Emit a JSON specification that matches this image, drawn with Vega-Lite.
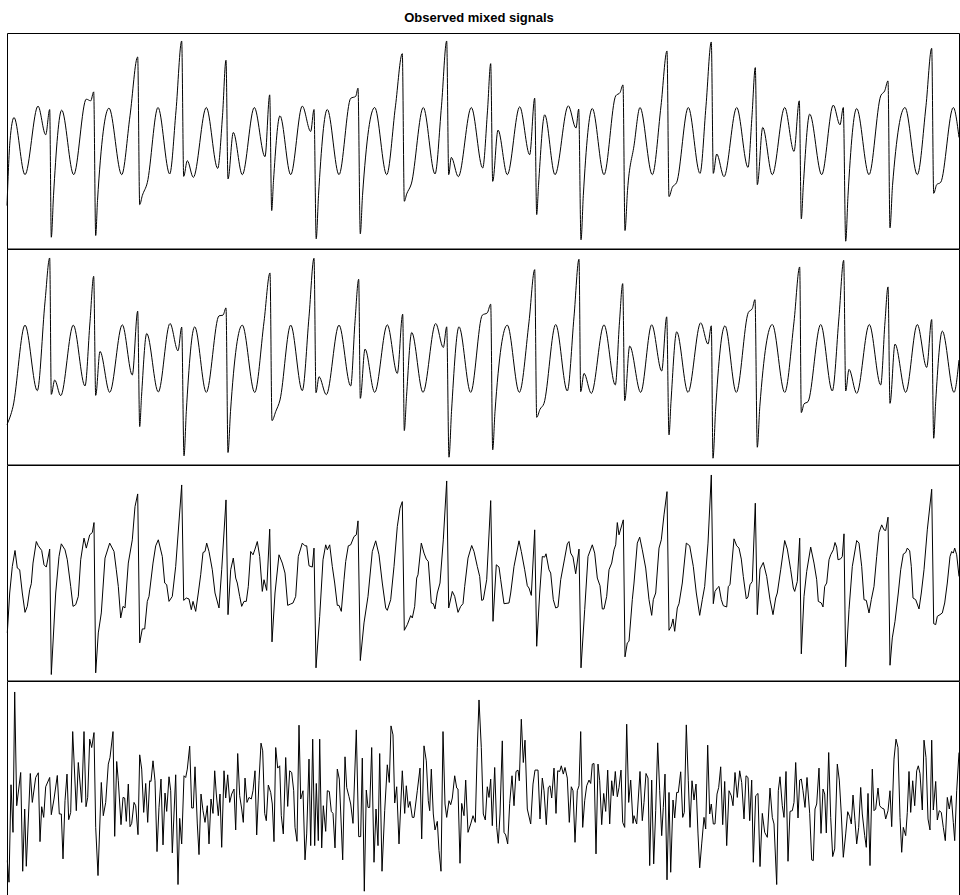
{
"$schema": "https://vega.github.io/schema/vega-lite/v6.json",
"background": "white",
"padding": {"left": 4, "top": 11, "right": 0, "bottom": 0},
"bounds": "flush",
"title": {"text": "Observed mixed signals", "fontSize": 13, "fontWeight": "bold", "font": "Liberation Sans", "anchor": "middle", "offset": 8, "dx": -4, "color": "black"},
"spacing": 0,
"config": {"view": {"stroke": "black", "strokeWidth": 1}, "concat": {"spacing": 0}},
"vconcat": [
{"width": 952, "height": 215.5, "data": {"name": "s1"}, "mark": {"type": "line", "color": "black", "strokeWidth": 1, "interpolate": "monotone"}, "encoding": {"x": {"field": "t", "type": "quantitative", "scale": {"domain": [0, 952]}, "axis": null}, "y": {"field": "v", "type": "quantitative", "scale": {"domain": [-108, 108]}, "axis": null}}},
{"width": 952, "height": 215.5, "data": {"name": "s2"}, "mark": {"type": "line", "color": "black", "strokeWidth": 1, "interpolate": "monotone"}, "encoding": {"x": {"field": "t", "type": "quantitative", "scale": {"domain": [0, 952]}, "axis": null}, "y": {"field": "v", "type": "quantitative", "scale": {"domain": [-108, 108]}, "axis": null}}},
{"width": 952, "height": 215.5, "data": {"name": "s3"}, "mark": {"type": "line", "color": "black", "strokeWidth": 1}, "encoding": {"x": {"field": "t", "type": "quantitative", "scale": {"domain": [0, 952]}, "axis": null}, "y": {"field": "v", "type": "quantitative", "scale": {"domain": [-108, 108]}, "axis": null}}},
{"width": 952, "height": 215.5, "data": {"name": "s4"}, "mark": {"type": "line", "color": "black", "strokeWidth": 1}, "encoding": {"x": {"field": "t", "type": "quantitative", "scale": {"domain": [0, 952]}, "axis": null}, "y": {"field": "v", "type": "quantitative", "scale": {"domain": [-108, 108]}, "axis": null}}}
],
"datasets": {
"s1": [
{"t":0,"v":-65},{"t":3,"v":0},{"t":7,"v":23.3},{"t":18,"v":-34},{"t":31,"v":34.7},{"t":38.7,"v":6},{"t":42.7,"v":31.3},{"t":44.3,"v":-96.7},{"t":46.5,"v":-55},{"t":54.7,"v":30.7},{"t":66.7,"v":-34},{"t":79.3,"v":41.7},{"t":83.7,"v":40},{"t":86.7,"v":49},{"t":88.7,"v":-95},{"t":90.5,"v":-60},{"t":102,"v":32.7},{"t":114.7,"v":-34},{"t":123,"v":25},{"t":130.7,"v":84},{"t":132.7,"v":-64},{"t":135.3,"v":-55},{"t":140.3,"v":-42},{"t":151,"v":33.3},{"t":162.7,"v":-33.3},{"t":169,"v":30},{"t":174.7,"v":100},{"t":176.7,"v":-35.7},{"t":180.3,"v":-20},{"t":186.3,"v":-36.7},{"t":199.3,"v":33.3},{"t":210.7,"v":-27.7},{"t":215.5,"v":25},{"t":219,"v":80.7},{"t":221,"v":-38.3},{"t":226.3,"v":8.3},{"t":235.3,"v":-34},{"t":247.3,"v":33.3},{"t":258,"v":-16},{"t":262.7,"v":46},{"t":264.7,"v":-70},{"t":266.5,"v":-40},{"t":273,"v":25},{"t":283.7,"v":-34},{"t":295.3,"v":34.7},{"t":303.7,"v":9.3},{"t":307,"v":31.3},{"t":309.2,"v":-98.3},{"t":311.5,"v":-55},{"t":320.3,"v":31.3},{"t":332,"v":-34},{"t":343.7,"v":42.5},{"t":348.7,"v":44.5},{"t":351,"v":52.7},{"t":353.3,"v":-93.3},{"t":355.5,"v":-55},{"t":367.7,"v":33.3},{"t":379.7,"v":-34},{"t":388.5,"v":35},{"t":395.3,"v":87.3},{"t":397.3,"v":-60.7},{"t":399.7,"v":-53.3},{"t":404.3,"v":-43.3},{"t":416.3,"v":33.3},{"t":428,"v":-33.3},{"t":434.5,"v":35},{"t":439.7,"v":100},{"t":441.7,"v":-34},{"t":444.3,"v":-16.7},{"t":451.3,"v":-36},{"t":464.3,"v":33.3},{"t":475.7,"v":-27.3},{"t":480.5,"v":30},{"t":483.7,"v":77.3},{"t":485.7,"v":-40.7},{"t":491,"v":10.7},{"t":500.3,"v":-34},{"t":512.7,"v":34},{"t":522.7,"v":-14},{"t":527.7,"v":42.7},{"t":529.7,"v":-74},{"t":531.5,"v":-45},{"t":537.7,"v":26},{"t":548,"v":-34},{"t":561.3,"v":35},{"t":569,"v":12.7},{"t":571.7,"v":31.7},{"t":574,"v":-99.3},{"t":576.3,"v":-55},{"t":585.3,"v":32.3},{"t":597,"v":-34},{"t":608.7,"v":45},{"t":613,"v":48.3},{"t":616,"v":56},{"t":618,"v":-90},{"t":620.5,"v":-50},{"t":627,"v":-5},{"t":633,"v":33.3},{"t":645.3,"v":-34},{"t":654,"v":35},{"t":660,"v":90},{"t":662,"v":-56},{"t":665.3,"v":-46.7},{"t":669.7,"v":-41.7},{"t":681.3,"v":33.3},{"t":693,"v":-32.7},{"t":699,"v":35},{"t":704.3,"v":99},{"t":706.3,"v":-32.7},{"t":709.7,"v":-13.3},{"t":717,"v":-36},{"t":729.7,"v":33.3},{"t":741,"v":-26.7},{"t":745,"v":25},{"t":748.3,"v":73.3},{"t":750.3,"v":-44},{"t":755.7,"v":13.3},{"t":765.3,"v":-34},{"t":777.7,"v":33.3},{"t":787,"v":-10.7},{"t":792.3,"v":40},{"t":794.3,"v":-78.3},{"t":796.3,"v":-45},{"t":802.7,"v":26.7},{"t":814.7,"v":-34},{"t":826.3,"v":35.7},{"t":833,"v":16},{"t":836.3,"v":33.3},{"t":838.7,"v":-100.7},{"t":841,"v":-55},{"t":849.7,"v":32.3},{"t":862,"v":-34},{"t":873.7,"v":45},{"t":877.7,"v":50},{"t":881,"v":60},{"t":883,"v":-87.3},{"t":885.5,"v":-45},{"t":898,"v":33.3},{"t":910.3,"v":-34},{"t":919,"v":35},{"t":924.7,"v":92.7},{"t":926.7,"v":-52.7},{"t":929.7,"v":-44},{"t":933.7,"v":-41.7},{"t":946.3,"v":33.3},{"t":952,"v":3.3}
],
"s2": [
{"t":0,"v":-68},{"t":6,"v":-50},{"t":18,"v":31.7},{"t":30.3,"v":-34},{"t":38,"v":55},{"t":42.7,"v":99},{"t":44.3,"v":-37.7},{"t":47.7,"v":-23.3},{"t":53.7,"v":-39},{"t":66.3,"v":31.7},{"t":78,"v":-29.3},{"t":83,"v":35},{"t":86.7,"v":80.7},{"t":88.7,"v":-38.7},{"t":93,"v":5.3},{"t":102.7,"v":-35.7},{"t":115.3,"v":32},{"t":125.3,"v":-18.3},{"t":130.7,"v":45.7},{"t":132.7,"v":-70},{"t":134.5,"v":-40},{"t":139.7,"v":23.3},{"t":151.3,"v":-35.3},{"t":163,"v":33.3},{"t":171,"v":6},{"t":174.7,"v":29.7},{"t":177,"v":-99.3},{"t":179.3,"v":-55},{"t":187.7,"v":30},{"t":199.3,"v":-35.7},{"t":212,"v":41},{"t":216,"v":41.7},{"t":219,"v":49},{"t":221,"v":-96},{"t":223.5,"v":-55},{"t":235.3,"v":31.7},{"t":247.7,"v":-35.7},{"t":257,"v":35},{"t":263,"v":84},{"t":265,"v":-64},{"t":268.7,"v":-55},{"t":273,"v":-43.3},{"t":283.7,"v":31.7},{"t":295.3,"v":-34},{"t":302,"v":40},{"t":307,"v":98.7},{"t":309,"v":-36},{"t":312,"v":-20},{"t":319.3,"v":-38},{"t":332,"v":31.7},{"t":343.7,"v":-29.3},{"t":348,"v":35},{"t":351.7,"v":77.7},{"t":353.3,"v":-41.7},{"t":358,"v":7.7},{"t":367.7,"v":-35.7},{"t":380.3,"v":32},{"t":390.3,"v":-16.7},{"t":395.7,"v":42.7},{"t":397.3,"v":-74},{"t":399.5,"v":-40},{"t":404.7,"v":24.3},{"t":416,"v":-35.7},{"t":428.7,"v":33.3},{"t":436.3,"v":9.3},{"t":439.7,"v":30},{"t":442,"v":-100.7},{"t":444.5,"v":-55},{"t":452,"v":30},{"t":463.7,"v":-35.7},{"t":475.3,"v":41.7},{"t":480.3,"v":44},{"t":483.7,"v":52.7},{"t":485.7,"v":-93.3},{"t":488,"v":-55},{"t":500.3,"v":31.7},{"t":512.3,"v":-35.7},{"t":522,"v":35},{"t":527.7,"v":87.3},{"t":529.7,"v":-60.7},{"t":533,"v":-52.7},{"t":537,"v":-46.7},{"t":548.7,"v":32.3},{"t":560.3,"v":-34.3},{"t":567,"v":40},{"t":572,"v":97.7},{"t":573.7,"v":-35},{"t":577,"v":-16.7},{"t":584.3,"v":-36.7},{"t":597,"v":32},{"t":608.3,"v":-28.3},{"t":612.5,"v":35},{"t":615.7,"v":73.3},{"t":617.7,"v":-44},{"t":622.7,"v":10.7},{"t":633.7,"v":-35.7},{"t":644.7,"v":32},{"t":654.7,"v":-14.3},{"t":659.7,"v":40},{"t":662,"v":-78.3},{"t":664,"v":-45},{"t":669.7,"v":25},{"t":681,"v":-35.7},{"t":693.7,"v":34},{"t":701,"v":12.7},{"t":704.3,"v":31},{"t":706,"v":-101.7},{"t":708.5,"v":-55},{"t":718,"v":31},{"t":729.3,"v":-35.7},{"t":741.3,"v":44.3},{"t":745.3,"v":48.3},{"t":748,"v":57.3},{"t":750.3,"v":-90.7},{"t":752.8,"v":-50},{"t":765.3,"v":32.3},{"t":777.7,"v":-35.7},{"t":787,"v":35},{"t":792.7,"v":90},{"t":794.3,"v":-56},{"t":797,"v":-47.3},{"t":801,"v":-45},{"t":813.7,"v":32.3},{"t":825.3,"v":-34.3},{"t":832,"v":40},{"t":836.7,"v":96.7},{"t":838.7,"v":-34.3},{"t":842,"v":-12.7},{"t":849.7,"v":-36.7},{"t":862.3,"v":32.3},{"t":873.7,"v":-28.3},{"t":878,"v":35},{"t":881,"v":70},{"t":883,"v":-46.7},{"t":888,"v":12.7},{"t":898.7,"v":-35.7},{"t":910.3,"v":32.3},{"t":919.7,"v":-10.7},{"t":924.7,"v":37.3},{"t":926.7,"v":-81.7},{"t":928.7,"v":-45},{"t":935.3,"v":25.7},{"t":947,"v":-35.7},{"t":952,"v":-3.3}
],
"s3": [
{"t":0.3,"v":-60.3},{"t":2.7,"v":-20.3},{"t":5.3,"v":6.3},{"t":8,"v":22.3},{"t":10.3,"v":4.7},{"t":12.7,"v":3},{"t":15.3,"v":-20.3},{"t":18,"v":-39.7},{"t":20.3,"v":-33.7},{"t":22.7,"v":-17},{"t":24.3,"v":-11},{"t":26,"v":9.7},{"t":29.3,"v":31.3},{"t":31.3,"v":27},{"t":34.7,"v":22.3},{"t":37,"v":8},{"t":39.3,"v":5.7},{"t":42.7,"v":23.7},{"t":44.3,"v":-102},{"t":48.7,"v":-20.3},{"t":52,"v":16.3},{"t":54.3,"v":29},{"t":58,"v":23},{"t":60.3,"v":13},{"t":63.7,"v":-13.7},{"t":66,"v":-33.7},{"t":68.7,"v":-32},{"t":71.3,"v":-23.7},{"t":73.7,"v":13},{"t":77,"v":34.7},{"t":79.3,"v":24.7},{"t":82.7,"v":38},{"t":85.3,"v":40.3},{"t":87,"v":50.3},{"t":88.7,"v":-100.3},{"t":91.3,"v":-60.3},{"t":94.3,"v":-40.3},{"t":98,"v":14.7},{"t":102.7,"v":29.7},{"t":107,"v":21.3},{"t":109.3,"v":3},{"t":111.3,"v":-13.7},{"t":113.7,"v":-45.3},{"t":116,"v":-33.7},{"t":118,"v":-35.3},{"t":121.3,"v":9.7},{"t":125.3,"v":33},{"t":128,"v":66.3},{"t":130.7,"v":79},{"t":132.7,"v":-70.3},{"t":135.3,"v":-56.3},{"t":137.7,"v":-56.3},{"t":140.3,"v":-28.7},{"t":142,"v":-23.7},{"t":146,"v":9.7},{"t":148.7,"v":27},{"t":151.3,"v":33},{"t":155.3,"v":16.3},{"t":157.7,"v":-10.3},{"t":159.7,"v":-12},{"t":162,"v":-28.7},{"t":165.3,"v":-23.7},{"t":168.7,"v":6.3},{"t":174.7,"v":88},{"t":176.7,"v":-27.7},{"t":179.3,"v":-25.3},{"t":182,"v":-26.3},{"t":184.3,"v":-37},{"t":186,"v":-28.7},{"t":188.7,"v":-38.7},{"t":191.3,"v":-20.3},{"t":193.7,"v":-2},{"t":196,"v":20.3},{"t":198,"v":21.3},{"t":199.7,"v":29.7},{"t":202,"v":21.3},{"t":205.3,"v":3},{"t":208,"v":-20.3},{"t":212,"v":-35.3},{"t":214.7,"v":3},{"t":219,"v":73},{"t":221,"v":-42},{"t":223.7,"v":3},{"t":226.3,"v":14.7},{"t":228.7,"v":-5.3},{"t":230.3,"v":-10.3},{"t":232.7,"v":-23.7},{"t":234.7,"v":-33.7},{"t":237,"v":-28.7},{"t":239.3,"v":-28.7},{"t":241.3,"v":-13.7},{"t":243.7,"v":21.3},{"t":246,"v":18},{"t":248,"v":23.7},{"t":250.3,"v":31.3},{"t":252.7,"v":16.3},{"t":255.3,"v":-18.7},{"t":257,"v":-7},{"t":259.7,"v":-17.7},{"t":262.7,"v":43.7},{"t":265,"v":-69.3},{"t":268,"v":-20.3},{"t":272,"v":18},{"t":275.3,"v":9.7},{"t":278,"v":-0.3},{"t":280.7,"v":-32.7},{"t":283.7,"v":-31.3},{"t":286,"v":-30.3},{"t":288.7,"v":-23.7},{"t":291.3,"v":16.3},{"t":295.3,"v":29.7},{"t":298,"v":27},{"t":299.7,"v":27},{"t":302,"v":7},{"t":305.3,"v":5.7},{"t":307,"v":24.7},{"t":309,"v":-95.3},{"t":312.7,"v":-43.7},{"t":316,"v":13},{"t":318.7,"v":28},{"t":320.3,"v":23},{"t":322.7,"v":28},{"t":325.3,"v":6.3},{"t":327.7,"v":-10.3},{"t":330.3,"v":-32.7},{"t":332,"v":-32.7},{"t":334.3,"v":-38.7},{"t":337,"v":-7},{"t":338.7,"v":11.3},{"t":341.3,"v":27},{"t":343.7,"v":28},{"t":347,"v":36.3},{"t":349.3,"v":38},{"t":351,"v":52},{"t":353.3,"v":-88},{"t":357,"v":-50.3},{"t":361,"v":-23.7},{"t":365.3,"v":21.3},{"t":368.7,"v":32},{"t":372,"v":18},{"t":375.3,"v":-10.3},{"t":378.7,"v":-35.3},{"t":380.3,"v":-37.7},{"t":383.7,"v":-27},{"t":387,"v":6.3},{"t":390.3,"v":46.3},{"t":393,"v":64.7},{"t":395.3,"v":71.3},{"t":397.3,"v":-57.7},{"t":400.3,"v":-52},{"t":403.7,"v":-43},{"t":405.3,"v":-45.3},{"t":407.7,"v":-33.7},{"t":409.7,"v":-5.3},{"t":411,"v":-2},{"t":414.3,"v":29.7},{"t":417,"v":19.7},{"t":419.3,"v":13.7},{"t":421.3,"v":11.3},{"t":424.3,"v":-30.3},{"t":426.3,"v":-31},{"t":428,"v":-36.3},{"t":430.3,"v":-20.3},{"t":433,"v":-10.3},{"t":436.3,"v":33},{"t":439.7,"v":92},{"t":441.7,"v":-35.3},{"t":445.3,"v":-18.7},{"t":447.7,"v":-23.7},{"t":451,"v":-39.7},{"t":453.7,"v":-33.7},{"t":456,"v":-31},{"t":457.7,"v":-13.7},{"t":461,"v":14.7},{"t":464.7,"v":27.3},{"t":467,"v":21.3},{"t":470.3,"v":6.3},{"t":472.7,"v":-3.7},{"t":474.7,"v":-27.7},{"t":476.3,"v":-27},{"t":479.7,"v":-7},{"t":483.7,"v":72.3},{"t":486,"v":-48.7},{"t":489.3,"v":8},{"t":492,"v":5.7},{"t":493.7,"v":-7},{"t":497,"v":-31},{"t":502,"v":-30.3},{"t":503.7,"v":-20.3},{"t":507,"v":6.3},{"t":512,"v":32},{"t":514.3,"v":21.3},{"t":517.7,"v":3},{"t":520.3,"v":-13},{"t":522,"v":-15.3},{"t":524.3,"v":-22.7},{"t":527.7,"v":43},{"t":529.7,"v":-73.7},{"t":532.7,"v":-20.3},{"t":535.3,"v":16.3},{"t":537.7,"v":15.7},{"t":539,"v":19},{"t":542,"v":3},{"t":543.7,"v":-0.3},{"t":546.3,"v":-27},{"t":548.7,"v":-35.3},{"t":551,"v":-34.3},{"t":553.7,"v":-7},{"t":557.7,"v":14.7},{"t":560.3,"v":29},{"t":562,"v":31.3},{"t":563.7,"v":19.7},{"t":566,"v":15.7},{"t":568.7,"v":-1},{"t":572,"v":23.7},{"t":574,"v":-95.3},{"t":577.7,"v":-37},{"t":581,"v":16.3},{"t":585.3,"v":28},{"t":587.7,"v":19.7},{"t":590.3,"v":-5.3},{"t":593,"v":-13},{"t":595.3,"v":-36.3},{"t":597,"v":-36.3},{"t":599.7,"v":-23.7},{"t":602,"v":3},{"t":604.7,"v":9.7},{"t":607,"v":23},{"t":608.7,"v":28},{"t":610.3,"v":50.3},{"t":612,"v":38},{"t":616.3,"v":53},{"t":618,"v":-84.3},{"t":620.3,"v":-70.3},{"t":622,"v":-68.7},{"t":625.3,"v":-27},{"t":627,"v":-10.3},{"t":630.3,"v":29.7},{"t":632.7,"v":35.7},{"t":635.3,"v":23},{"t":638.7,"v":4.7},{"t":642,"v":-27},{"t":644.7,"v":-42.7},{"t":646.3,"v":-27},{"t":648.7,"v":-20.3},{"t":652,"v":24.7},{"t":654.3,"v":33},{"t":657,"v":58},{"t":660,"v":81.3},{"t":662,"v":-57.7},{"t":664.3,"v":-53.7},{"t":666,"v":-46.3},{"t":667.7,"v":-58.7},{"t":670.3,"v":-35.3},{"t":672,"v":-31},{"t":675.3,"v":-10.3},{"t":679.3,"v":29.7},{"t":682.7,"v":27},{"t":686.3,"v":6.3},{"t":689.3,"v":-20.3},{"t":692.7,"v":-42.7},{"t":695.3,"v":-27},{"t":697.7,"v":-13.7},{"t":701,"v":29.7},{"t":704.3,"v":98},{"t":706.3,"v":-31},{"t":708,"v":-18.7},{"t":710.3,"v":-15.3},{"t":712,"v":-13.7},{"t":714.3,"v":-27},{"t":716.3,"v":-33},{"t":719.7,"v":-34.3},{"t":721.3,"v":-13.7},{"t":723,"v":-12},{"t":727,"v":34},{"t":729.7,"v":27},{"t":732,"v":24.7},{"t":734.3,"v":13.7},{"t":736.3,"v":-3.7},{"t":739.3,"v":-26.3},{"t":741,"v":-24.3},{"t":743,"v":-12},{"t":745.3,"v":-8.7},{"t":748.3,"v":69.7},{"t":750.3,"v":-42},{"t":753,"v":3.7},{"t":756.3,"v":10.3},{"t":759.7,"v":-3.7},{"t":763,"v":-27},{"t":766,"v":-42},{"t":768.7,"v":-25.3},{"t":770.3,"v":-20.3},{"t":773.7,"v":3},{"t":777.7,"v":32.3},{"t":780.3,"v":23.7},{"t":783.7,"v":3},{"t":786.3,"v":-15.3},{"t":787.7,"v":-18.7},{"t":790.3,"v":-8.7},{"t":792.7,"v":34.7},{"t":794.3,"v":-81.3},{"t":797,"v":-23.7},{"t":799.7,"v":1.3},{"t":803.7,"v":25.7},{"t":807,"v":9.7},{"t":809.7,"v":-7},{"t":811.3,"v":-28.7},{"t":814.3,"v":-30.3},{"t":816,"v":-34.3},{"t":817.7,"v":-13.7},{"t":819.7,"v":-10.3},{"t":822,"v":13},{"t":823.7,"v":18},{"t":826.3,"v":23},{"t":828,"v":30.3},{"t":829.7,"v":25.7},{"t":831,"v":13},{"t":833.7,"v":14},{"t":835.3,"v":16.3},{"t":837,"v":39},{"t":838.7,"v":-94.3},{"t":842,"v":-37},{"t":845.3,"v":6.3},{"t":849.7,"v":32.3},{"t":852,"v":29.7},{"t":854.7,"v":6.3},{"t":857,"v":-27},{"t":859.3,"v":-27.7},{"t":862,"v":-40.3},{"t":864.3,"v":-27},{"t":867,"v":-13.7},{"t":869.7,"v":16.3},{"t":872,"v":40.3},{"t":874.7,"v":48},{"t":877,"v":43},{"t":878.7,"v":42.3},{"t":881,"v":55.7},{"t":883,"v":-92.7},{"t":885.3,"v":-65.3},{"t":888,"v":-48.7},{"t":891.3,"v":-20.3},{"t":893.7,"v":3},{"t":896.3,"v":18.7},{"t":898.7,"v":20.3},{"t":900.3,"v":24.7},{"t":902.7,"v":22},{"t":904.3,"v":6.3},{"t":906,"v":-25.3},{"t":908.7,"v":-27},{"t":912,"v":-36.3},{"t":914.3,"v":-20.3},{"t":917,"v":3},{"t":920.3,"v":43},{"t":924.7,"v":83.7},{"t":926.7,"v":-51},{"t":928.7,"v":-52},{"t":930.3,"v":-43.7},{"t":933,"v":-42},{"t":935.3,"v":-40.3},{"t":937.7,"v":-30.3},{"t":940.3,"v":-10.3},{"t":943,"v":16.3},{"t":944.7,"v":21.3},{"t":946.3,"v":19.7},{"t":947.7,"v":24.7},{"t":949.7,"v":18},{"t":952,"v":-3.7}
],
"s4": [
{"t":0.3,"v":-72},{"t":2,"v":-93.7},{"t":4,"v":4},{"t":6,"v":-43.7},{"t":7.7,"v":97},{"t":9.7,"v":-17},{"t":13.7,"v":16.3},{"t":15.7,"v":-82.7},{"t":17.7,"v":-20.3},{"t":19.3,"v":-77.7},{"t":23.3,"v":15.3},{"t":25.3,"v":-13.7},{"t":28.7,"v":11.3},{"t":31.3,"v":16},{"t":33,"v":-53},{"t":34.7,"v":-18},{"t":36.7,"v":-28.7},{"t":38.7,"v":2},{"t":42.7,"v":11.3},{"t":44.3,"v":-26},{"t":47,"v":-10.3},{"t":50.3,"v":13.3},{"t":52.3,"v":-25.3},{"t":54.3,"v":-25.3},{"t":56,"v":-70.3},{"t":58,"v":-12},{"t":60,"v":14.7},{"t":61.7,"v":-31},{"t":63.7,"v":-23.7},{"t":65.7,"v":57.3},{"t":69.3,"v":-22},{"t":71.3,"v":26.3},{"t":74.7,"v":-13.7},{"t":77,"v":57.3},{"t":79,"v":-18},{"t":80.7,"v":-8.7},{"t":82.7,"v":49.7},{"t":84.7,"v":41.3},{"t":87,"v":56.3},{"t":88.7,"v":-38.7},{"t":91,"v":-87},{"t":94.3,"v":6.3},{"t":96.3,"v":-27},{"t":98.7,"v":-13.7},{"t":101.3,"v":24.7},{"t":103,"v":31.3},{"t":106,"v":57.3},{"t":107.7,"v":-47.7},{"t":109.7,"v":27.3},{"t":111.3,"v":8},{"t":114,"v":-36},{"t":116,"v":-8.7},{"t":117.7,"v":-9.3},{"t":119.3,"v":-32.7},{"t":121.3,"v":4.7},{"t":123,"v":-38},{"t":124.7,"v":-34.7},{"t":127,"v":-13.7},{"t":128.7,"v":-17},{"t":131,"v":-46},{"t":132.7,"v":34},{"t":134.7,"v":19.7},{"t":136.7,"v":-23.7},{"t":138.7,"v":5.3},{"t":140.7,"v":-33.7},{"t":142.7,"v":8},{"t":144,"v":7.3},{"t":146,"v":28},{"t":148,"v":8},{"t":150,"v":-63},{"t":152,"v":-18.7},{"t":154,"v":9.7},{"t":156,"v":-56.3},{"t":158,"v":-4.3},{"t":159.7,"v":-22.7},{"t":162,"v":12},{"t":163.7,"v":-2},{"t":165.3,"v":-64.3},{"t":168.7,"v":14},{"t":171,"v":-96},{"t":172.7,"v":-29.7},{"t":174.7,"v":-55.3},{"t":177,"v":13},{"t":178.7,"v":11.3},{"t":180.3,"v":19.7},{"t":182.7,"v":42.7},{"t":184.7,"v":-19.3},{"t":186.3,"v":-19.3},{"t":188,"v":22},{"t":190.3,"v":-35.3},{"t":192,"v":-66},{"t":194,"v":-5.3},{"t":196,"v":-22},{"t":198,"v":-33.7},{"t":200.3,"v":-17},{"t":202,"v":-55.3},{"t":204,"v":-10.3},{"t":206,"v":-24.7},{"t":207.7,"v":18},{"t":209.3,"v":-5.3},{"t":211.3,"v":-27},{"t":213,"v":-5.3},{"t":214.7,"v":-58.7},{"t":217,"v":18},{"t":218.7,"v":-9.3},{"t":220.7,"v":14},{"t":222.7,"v":-13.7},{"t":224.7,"v":-5.3},{"t":227,"v":-0.3},{"t":228.7,"v":-41.3},{"t":230.7,"v":35.3},{"t":232.7,"v":-7},{"t":234.7,"v":-20.3},{"t":236.3,"v":-33.7},{"t":238,"v":10.7},{"t":240,"v":-13.7},{"t":242,"v":-8.7},{"t":244.3,"v":-10.3},{"t":246,"v":-2},{"t":248,"v":18},{"t":249.7,"v":-46.3},{"t":252,"v":8},{"t":254,"v":45.7},{"t":255.7,"v":38},{"t":257.7,"v":-24.7},{"t":259.3,"v":-32},{"t":261.3,"v":3.7},{"t":263.7,"v":-3.7},{"t":265.3,"v":-15.3},{"t":267,"v":-53},{"t":268.7,"v":41.3},{"t":270.7,"v":20.7},{"t":272.7,"v":23},{"t":274.3,"v":-27},{"t":276.3,"v":-45.3},{"t":278.7,"v":31.3},{"t":280.7,"v":-17.7},{"t":282.7,"v":18},{"t":284.7,"v":16.3},{"t":286.7,"v":-2},{"t":288,"v":-38.7},{"t":290,"v":-52.7},{"t":292,"v":63.7},{"t":293.7,"v":-10.3},{"t":296,"v":-2},{"t":298,"v":-71.3},{"t":299.7,"v":-45.3},{"t":302,"v":29.7},{"t":303.7,"v":-57},{"t":305.7,"v":49.7},{"t":307.7,"v":-57},{"t":309.3,"v":5.3},{"t":311.3,"v":-52},{"t":312.7,"v":49.7},{"t":314.7,"v":-59.3},{"t":316.3,"v":-17},{"t":318.7,"v":-42.7},{"t":320.3,"v":-2},{"t":322.3,"v":-2.7},{"t":324.3,"v":-22.7},{"t":326,"v":-24.7},{"t":328,"v":-59.3},{"t":330.3,"v":19.7},{"t":332.3,"v":9.7},{"t":335.7,"v":-71.3},{"t":338,"v":32},{"t":339.7,"v":1.3},{"t":342,"v":-8},{"t":343.7,"v":-15.3},{"t":346,"v":-34.7},{"t":349.3,"v":59},{"t":351.7,"v":-48},{"t":353.7,"v":-48},{"t":355.3,"v":30.7},{"t":357.3,"v":-102.7},{"t":359.3,"v":-1.3},{"t":361,"v":-18.7},{"t":362.7,"v":-18.7},{"t":364.7,"v":41.3},{"t":367,"v":-73.7},{"t":369,"v":-20.3},{"t":371,"v":-57},{"t":372.7,"v":35.3},{"t":375,"v":-82.7},{"t":377.7,"v":-22},{"t":380.3,"v":24},{"t":382.3,"v":6.3},{"t":384,"v":63},{"t":386,"v":54},{"t":387.7,"v":-14.3},{"t":389.7,"v":2},{"t":392,"v":-55.3},{"t":395.3,"v":18},{"t":397.7,"v":-24.7},{"t":399.3,"v":3},{"t":401.3,"v":-18.7},{"t":403,"v":-12.7},{"t":405.3,"v":-28.7},{"t":407,"v":-28.7},{"t":410.3,"v":-2},{"t":413,"v":20.7},{"t":414.7,"v":-50.3},{"t":417,"v":43},{"t":419.3,"v":28},{"t":421.3,"v":-12},{"t":422.7,"v":-22},{"t":424.3,"v":19.7},{"t":426.3,"v":-25.3},{"t":428,"v":-41.3},{"t":430.3,"v":-32.7},{"t":432,"v":-62},{"t":434,"v":-82.7},{"t":436,"v":57.3},{"t":438,"v":-15.3},{"t":439.7,"v":-28.7},{"t":442,"v":-12},{"t":443.7,"v":-16},{"t":445.3,"v":-9.3},{"t":447.7,"v":13},{"t":449.7,"v":0.7},{"t":451,"v":-0.3},{"t":453,"v":-74.7},{"t":454.7,"v":-14.7},{"t":457,"v":-27},{"t":458.7,"v":8.7},{"t":461,"v":-43.7},{"t":463.7,"v":-35.3},{"t":466,"v":-27},{"t":468.3,"v":-33.7},{"t":470.3,"v":41.3},{"t":472,"v":89},{"t":474.3,"v":41.3},{"t":476.3,"v":-25.3},{"t":478.3,"v":-31.3},{"t":480.3,"v":2},{"t":482,"v":-8.7},{"t":483.7,"v":9.7},{"t":485.3,"v":-37},{"t":487.7,"v":21.3},{"t":489.7,"v":-38.7},{"t":491.3,"v":-54.7},{"t":493,"v":-25.3},{"t":495.3,"v":48},{"t":497,"v":-43.7},{"t":498.7,"v":-46.3},{"t":500.7,"v":-55.3},{"t":502.7,"v":-14.7},{"t":505,"v":13},{"t":507,"v":-17},{"t":509,"v":17.3},{"t":511,"v":18.7},{"t":512.3,"v":8},{"t":514.3,"v":69.7},{"t":516.3,"v":26.3},{"t":518,"v":48.7},{"t":520.3,"v":-20.3},{"t":523.7,"v":-35.3},{"t":526,"v":4.7},{"t":528,"v":18.7},{"t":531,"v":18.7},{"t":533,"v":-30.3},{"t":535.3,"v":10.7},{"t":537,"v":-2},{"t":539.3,"v":-36},{"t":541.3,"v":1.3},{"t":543,"v":3},{"t":544.7,"v":-9.3},{"t":547,"v":20.7},{"t":549,"v":-24.7},{"t":550.7,"v":18},{"t":552.7,"v":17.3},{"t":554.3,"v":23},{"t":556.3,"v":14.7},{"t":558,"v":21.3},{"t":560.3,"v":10.7},{"t":562.3,"v":-33.7},{"t":564.3,"v":2},{"t":566,"v":-2},{"t":568,"v":-53.7},{"t":570.3,"v":-2},{"t":572,"v":3},{"t":573.7,"v":57.3},{"t":575.7,"v":-38.7},{"t":577.7,"v":-12},{"t":579.7,"v":3},{"t":582,"v":8.7},{"t":583.7,"v":5.3},{"t":585.3,"v":24.7},{"t":587,"v":25.3},{"t":589,"v":-65.3},{"t":591,"v":24.7},{"t":592.7,"v":8},{"t":594.7,"v":-36},{"t":596.7,"v":-4.7},{"t":598.7,"v":-22.7},{"t":600.7,"v":18.7},{"t":602.7,"v":-35.3},{"t":604.7,"v":8},{"t":606.3,"v":-7},{"t":608.3,"v":17.3},{"t":610.3,"v":-8},{"t":612,"v":1.3},{"t":614,"v":18.7},{"t":615.7,"v":-33.7},{"t":617.7,"v":-38.7},{"t":619.7,"v":64.7},{"t":621.7,"v":-13.7},{"t":623.7,"v":8.7},{"t":626,"v":-34.7},{"t":627,"v":-27},{"t":629.7,"v":-35.3},{"t":633,"v":17.3},{"t":635.3,"v":-32},{"t":637,"v":-13.7},{"t":639,"v":15.3},{"t":641,"v":10.7},{"t":642.7,"v":-77},{"t":644.7,"v":8.7},{"t":646.7,"v":-75.3},{"t":648.7,"v":-22},{"t":650.7,"v":46},{"t":652.7,"v":-2},{"t":654.7,"v":-47},{"t":656.3,"v":-18.7},{"t":658,"v":14.7},{"t":660,"v":-91.3},{"t":662,"v":-3.7},{"t":663.7,"v":-83.7},{"t":666,"v":-11.3},{"t":667.7,"v":-29.3},{"t":669.7,"v":-3.7},{"t":671.3,"v":-3.7},{"t":673.7,"v":17},{"t":675.7,"v":-28.7},{"t":677.3,"v":-23.7},{"t":679.3,"v":64},{"t":681.3,"v":8},{"t":683,"v":-38.7},{"t":685,"v":8},{"t":687,"v":-11.3},{"t":689,"v":4.7},{"t":691,"v":-45.3},{"t":692.7,"v":-79.3},{"t":694.7,"v":-55.3},{"t":697,"v":-28.7},{"t":698.7,"v":-40.3},{"t":700.7,"v":43.7},{"t":702.7,"v":-25.3},{"t":704.3,"v":-15.3},{"t":706.3,"v":-35.3},{"t":708,"v":-35.3},{"t":710,"v":-5.3},{"t":711.7,"v":1.3},{"t":713.7,"v":22},{"t":715.7,"v":-36},{"t":717.7,"v":7.3},{"t":719.7,"v":-57},{"t":722,"v":-2},{"t":724.3,"v":-7},{"t":726,"v":-17},{"t":728,"v":16.3},{"t":730.3,"v":-8.7},{"t":732.7,"v":18},{"t":734.7,"v":6.3},{"t":737,"v":-30.3},{"t":739,"v":13},{"t":741,"v":11.3},{"t":742.7,"v":-32},{"t":744.7,"v":8.7},{"t":746.3,"v":-73.7},{"t":748.7,"v":-7},{"t":751,"v":-4.7},{"t":753,"v":-78},{"t":755.3,"v":-24.7},{"t":757.7,"v":-43.7},{"t":760.3,"v":-48.7},{"t":763,"v":0.7},{"t":765.3,"v":-28.7},{"t":767,"v":-35.3},{"t":769.7,"v":-96},{"t":771.3,"v":-2},{"t":773,"v":12},{"t":775.3,"v":-17},{"t":777,"v":-28.7},{"t":779,"v":17.3},{"t":781,"v":-72.7},{"t":783,"v":-22.7},{"t":785.3,"v":-22},{"t":787,"v":-13.7},{"t":788.7,"v":26.3},{"t":791,"v":-29.3},{"t":792.7,"v":8.7},{"t":794.3,"v":9.7},{"t":796,"v":-2},{"t":798,"v":-18.7},{"t":800,"v":11.3},{"t":802.7,"v":-24.7},{"t":804.7,"v":-71.3},{"t":806.3,"v":-72},{"t":808,"v":-20.3},{"t":809.7,"v":-15.3},{"t":812,"v":20.7},{"t":814,"v":-44.7},{"t":816,"v":-0.3},{"t":817.7,"v":-5.3},{"t":819.3,"v":-44.3},{"t":821.7,"v":36.3},{"t":823.7,"v":-28.7},{"t":825.7,"v":-68},{"t":827.7,"v":-60.3},{"t":830.3,"v":24.7},{"t":832.3,"v":8.7},{"t":834.3,"v":-25.3},{"t":836.3,"v":-68.7},{"t":838.7,"v":-45.3},{"t":840.7,"v":-23},{"t":842.7,"v":-28},{"t":844.3,"v":-35.3},{"t":846,"v":-6.3},{"t":848,"v":-32},{"t":849.7,"v":-55.3},{"t":851.7,"v":-38.7},{"t":853.7,"v":1.3},{"t":855.3,"v":-25.3},{"t":857.7,"v":-47},{"t":859.3,"v":-58.7},{"t":861,"v":-4.7},{"t":863,"v":-77},{"t":865.3,"v":19.7},{"t":867,"v":-22},{"t":868.7,"v":-20.3},{"t":871,"v":0.7},{"t":872.7,"v":-17},{"t":874.7,"v":-19.3},{"t":877,"v":-20.3},{"t":878.7,"v":-30.3},{"t":881,"v":-22},{"t":883,"v":-2},{"t":884.7,"v":-38},{"t":887,"v":29.7},{"t":889,"v":49.7},{"t":891,"v":41.3},{"t":893,"v":-28.7},{"t":894.7,"v":-63.7},{"t":896.3,"v":-38.7},{"t":898.7,"v":-47},{"t":900.3,"v":-23.7},{"t":902,"v":17.3},{"t":903.7,"v":-23.7},{"t":905.7,"v":8},{"t":907.7,"v":-17},{"t":909.7,"v":18},{"t":911.3,"v":23},{"t":913,"v":15.3},{"t":915.3,"v":-21.3},{"t":917,"v":48.7},{"t":919,"v":31.3},{"t":921,"v":-30.3},{"t":923,"v":-41.3},{"t":924.7,"v":48.7},{"t":926.3,"v":-21.3},{"t":928.7,"v":7.3},{"t":930.3,"v":-31.3},{"t":932.3,"v":-22},{"t":934.3,"v":-23.7},{"t":936.3,"v":-38.7},{"t":938.3,"v":-52},{"t":940.3,"v":-8.7},{"t":942.3,"v":-20.3},{"t":944.3,"v":-7},{"t":946.3,"v":-33.7},{"t":947.7,"v":-52},{"t":949.7,"v":-2},{"t":952,"v":36.3}
]
}
}
